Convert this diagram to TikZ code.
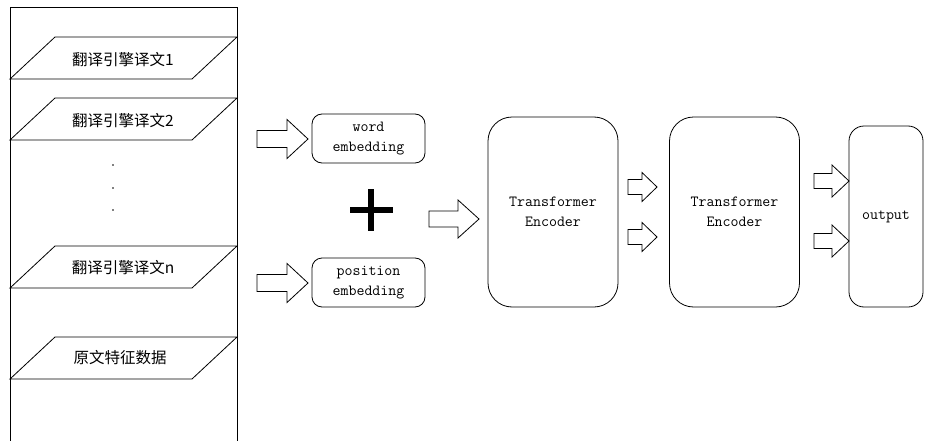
\documentclass[tikz,border=0pt]{standalone}
\usepackage{fontspec}
\newfontfamily\cjk{Noto Sans CJK SC}
\usepackage{tikz}
\usetikzlibrary{positioning,calc}

% hollow block arrow: tail centre x, y, length, head length, shaft half, head half
\newcommand{\hollowarrow}[6]{%
  \draw[line width=0.8pt] (#1,{#2-#5}) -- ({#1+#3-#4},{#2-#5}) -- ({#1+#3-#4},{#2-#6})
    -- ({#1+#3},#2) -- ({#1+#3-#4},{#2+#6}) -- ({#1+#3-#4},{#2+#5}) -- (#1,{#2+#5}) -- cycle;}

\tikzset{
  cntext/.style={font=\cjk\fontsize{15.5}{18}\selectfont},
  entext/.style={font=\ttfamily\fontsize{15.5}{19.5}\selectfont, align=center},
  embbox/.style={draw, line width=0.8pt, rounded corners=10pt, minimum width=113pt, minimum height=49pt, entext},
  encbox/.style={draw, line width=0.8pt, rounded corners=24pt, minimum width=130pt, minimum height=190pt, entext}
}

\begin{document}
\begin{tikzpicture}[x=1pt, y=-1pt]
  \useasboundingbox (0,0) rectangle (925,441);
  \clip (0,0) rectangle (925,441);

  % input column
  \draw[line width=0.8pt] (10,450) -- (10,7) -- (237,7) -- (237,450);
  \foreach \t in {37,98,246,337}
    \draw[line width=0.8pt] (10,\t+42) -- (55,\t) -- (237,\t) -- (192,\t+42) -- cycle;
  \node[cntext] (trans1) at (123,60) {翻译引擎译文1};
  \node[cntext] (trans2) at (123,121) {翻译引擎译文2};
  \node[cntext] (transn) at (123,268) {翻译引擎译文n};
  \node[cntext] (source) at (120,358) {原文特征数据};
  \foreach \d in {165,188,210}
    \fill (113,\d) circle (0.8pt);

  % embeddings
  \node[embbox] (word) at (368.5,138.5) {word\\embedding};
  \node[embbox] (pos) at (368.5,282.5) {position\\embedding};
  \hollowarrow{257}{139}{51}{21}{8.5}{19.5}
  \hollowarrow{257}{283}{51}{21}{8.5}{19.5}

  % plus sign
  \draw[line width=6pt] (350,210) -- (393,210);
  \draw[line width=6pt] (371,189) -- (371,231);
  \hollowarrow{429}{219}{50}{21}{8}{19}

  % encoders
  \node[encbox] (enc1) at (553,212) {Transformer\\Encoder};
  \node[encbox] (enc2) at (734.5,212) {Transformer\\Encoder};
  \hollowarrow{628}{187}{29}{15}{7.5}{14.5}
  \hollowarrow{628}{237}{29}{15}{7.5}{14.5}

  % output
  \node[draw, line width=0.8pt, rounded corners=15pt, minimum width=74pt, minimum height=181pt, entext] (out) at (886,216.5) {output};
  \hollowarrow{814}{181}{35}{17}{7.5}{16}
  \hollowarrow{814}{241}{35}{17}{7.5}{16}
\end{tikzpicture}
\end{document}
